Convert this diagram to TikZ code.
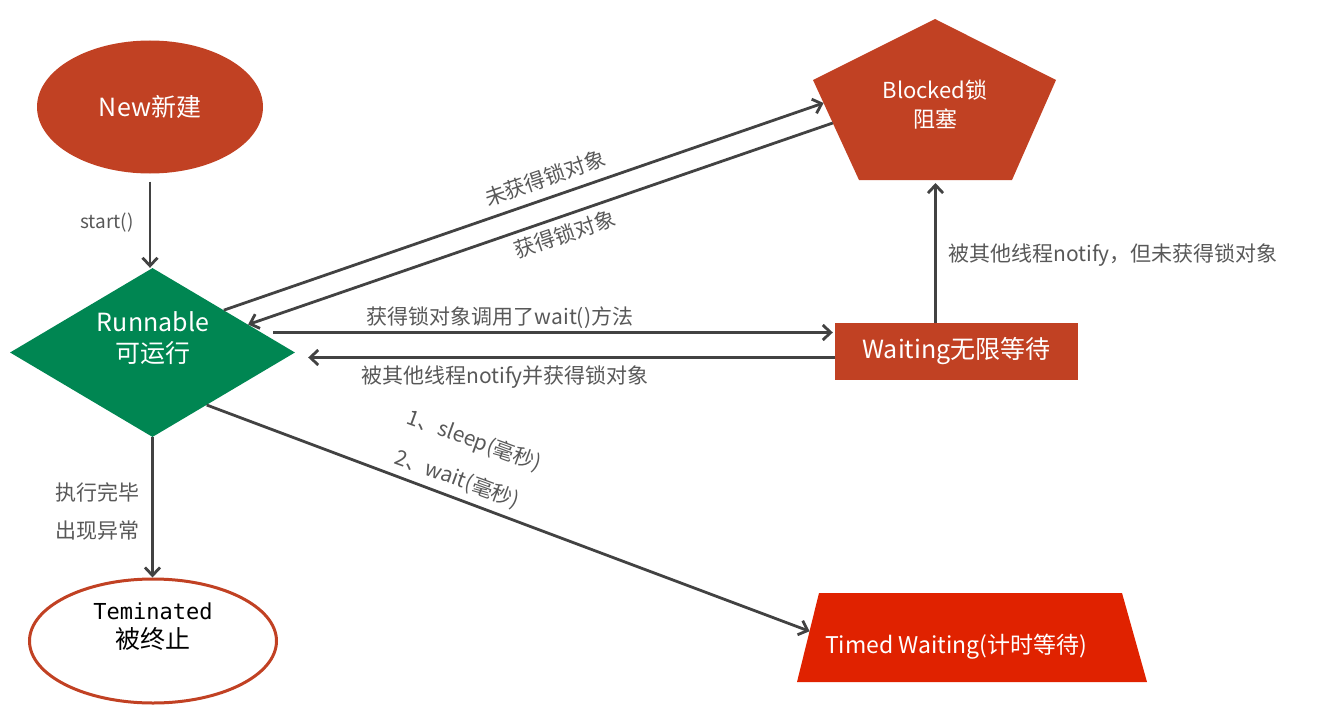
\documentclass[tikz,border=0pt]{standalone}
\usepackage{fontspec}
\setmainfont{Noto Sans CJK SC}
\setmonofont{DejaVu Sans Mono}
\usetikzlibrary{shapes.geometric,arrows.meta,calc}
\definecolor{rust}{RGB}{193,65,35}
\definecolor{grn}{RGB}{0,134,82}
\definecolor{tred}{RGB}{224,34,0}
\definecolor{arrgray}{RGB}{66,66,66}
\definecolor{lblgray}{RGB}{88,88,88}
\tikzset{
 arr/.style={draw=arrgray, line width=2.8pt, -{Straight Barb[length=8pt,width=15pt]}},
 lbl/.style={text=lblgray, font=\fontsize{21}{25}\selectfont, inner sep=0},
 wtxt/.style={text=white, font=\fontsize{25}{31}\selectfont, align=center, inner sep=0},
}
\begin{document}
\begin{tikzpicture}[x=1pt,y=-1pt]
\useasboundingbox (0,0) rectangle (1320,717);
% New
\node[ellipse, fill=rust, minimum width=226pt, minimum height=133pt, wtxt] (new) at (150,107) {New新建};
% Runnable
\node[diamond, fill=grn, minimum width=285pt, minimum height=169pt, inner sep=0] (runnable) at (152.5,352.5) {};
\node[wtxt] (runt) at (153,338) {Runnable\\可运行};
% Blocked pentagon
\coordinate (ptop) at (935,19);
\coordinate (pl) at (813,80);
\coordinate (pr) at (1056,80);
\coordinate (pbl) at (859,180);
\coordinate (pbr) at (1012,180);
\coordinate (pbm) at ($(pbl)!0.5!(pbr)$);
\fill[rust] (ptop) -- (pr) -- (pbr) -- (pbl) -- (pl) -- cycle;
\node[wtxt, font=\fontsize{22}{29}\selectfont] (blocked) at (935,105) {Blocked锁\\阻塞};
% Waiting
\node[rectangle, fill=rust, minimum width=243pt, minimum height=57pt, wtxt] (waiting) at (956.5,351.5) {Waiting无限等待};
% Timed waiting trapezoid
\coordinate (tl) at (819,593);
\coordinate (tr) at (1122,593);
\coordinate (tbr) at (1147,682);
\coordinate (tbl) at (797,682);
\fill[tred] (tl) -- (tr) -- (tbr) -- (tbl) -- cycle;
\node[wtxt, anchor=west, font=\fontsize{23}{27}\selectfont] (timed) at (825,647) {Timed Waiting(计时等待)};
% Terminated
\node[ellipse, draw=rust, line width=3pt, fill=white, minimum width=247pt, minimum height=124pt, inner sep=0] (term) at (153,641) {};
\node[align=center, inner sep=0, font=\fontsize{25}{29}\selectfont] (termt) at (153,627) {{\ttfamily\fontsize{22}{29}\selectfont Teminated}\\被终止};
% arrows
\draw[arr, shorten <=8pt] (new.south) -- (new.south |- runnable.north);
\draw[arr] (runnable.south) -- (runnable.south |- term.north);
\draw[arr] ($(runnable.north)!0.5!(runnable.east)$) -- ($(pl)!0.23!(pbl)$);
\draw[arr] ($(pl)!0.43!(pbl)$) -- ($(runnable.north)!0.67!(runnable.east)$);
\draw[arr, shorten >=2pt] ($(runnable.east)+(-22,-20)$) coordinate (rw) -- (rw -| waiting.west);
\draw[arr, shorten >=13pt] ($(waiting.west)+(0,6)$) coordinate (wr) -- (wr -| runnable.east);
\draw[arr, shorten >=3pt] (pbm |- waiting.north) -- (pbm);
\draw[arr] ($(runnable.east)!0.62!(runnable.south)$) -- ($(tl)!0.43!(tbl)$);
% labels
\node[lbl, font=\fontsize{19}{23}\selectfont] (l1) at (107,223) {start()};
\node[lbl, rotate=19] (l2) at (545,178) {未获得锁对象};
\node[lbl, rotate=19] (l3) at (565,234) {获得锁对象};
\node[lbl] (l4) at (500,318) {获得锁对象调用了wait()方法};
\node[lbl] (l5) at (505,377) {被其他线程notify并获得锁对象};
\node[lbl, anchor=west] (l6) at (948,255) {被其他线程notify，但未获得锁对象};
\node[lbl] (l7) at (97,492) {执行完毕};
\node[lbl] (l8) at (97,531) {出现异常};
\node[lbl, rotate=-20] (l9) at (474,441) {1、sleep(毫秒)};
\node[lbl, rotate=-20] (l10) at (457,479) {2、wait(毫秒)};
\end{tikzpicture}
\end{document}
